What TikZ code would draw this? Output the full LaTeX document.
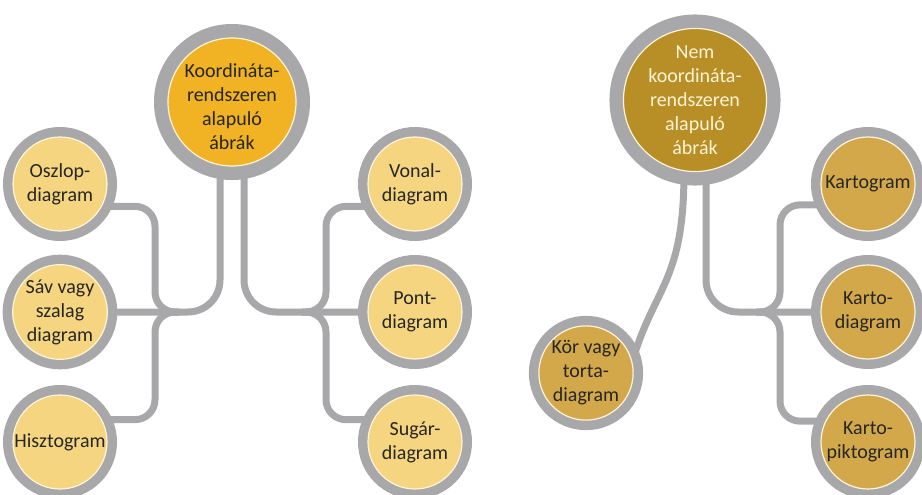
\documentclass[tikz,border=0pt]{standalone}
\usepackage{fontspec}
\setmainfont{Carlito}
\usetikzlibrary{backgrounds,calc}
\definecolor{ringgray}{HTML}{A8A8AA}
\definecolor{cream}{HTML}{FFF4D8}
\definecolor{ink}{HTML}{262626}
\definecolor{paleyellow}{HTML}{F5D580}
\definecolor{rootyellow}{HTML}{F1B224}
\definecolor{rootgold}{HTML}{B88E26}
\definecolor{tangold}{HTML}{D2A84B}
\begin{document}
\begin{tikzpicture}[x=1pt,y=-1pt,
  bubble/.style={circle, inner sep=0pt, minimum size=94pt, align=center,
    font=\fontsize{20}{24}\selectfont, text=ink, draw=cream, line width=1.2pt,
    preaction={draw=ringgray, line width=20pt}},
  rootbubble/.style={bubble, minimum size=128pt, preaction={draw=ringgray, line width=28pt}},
  rootlabel/.style={align=center, font=\fontsize{20}{24}\selectfont, inner sep=0pt},
  conn/.style={draw=ringgray, line width=7pt, rounded corners=20pt},
  stem/.style={conn, rounded corners=32pt}]
\useasboundingbox (0,0) rectangle (922,495);

% coordinate-system based charts
\node[rootbubble, fill=rootyellow,
  label={[rootlabel, text=ink, yshift=-5pt]center:Koordináta-\\rendszeren\\alapuló\\ábrák}]
  (kr) at (232,102) {};
\node[bubble, fill=paleyellow] (osz) at (60,184) {Oszlop-\\diagram};
\node[bubble, fill=paleyellow] (sav) at (60,312) {Sáv vagy\\szalag\\diagram};
\node[bubble, fill=paleyellow] (hisz) at (60,442) {Hisztogram};
\node[bubble, fill=paleyellow] (von) at (415,184) {Vonal-\\diagram};
\node[bubble, fill=paleyellow] (pont) at (415,312) {Pont-\\diagram};
\node[bubble, fill=paleyellow] (sug) at (415,442) {Sugár-\\diagram};

% charts not based on a coordinate system
\node[rootbubble, fill=rootgold, text=cream] (nr) at (695,100) {Nem\\koordináta-\\rendszeren\\alapuló\\ábrák};
\node[bubble, fill=tangold] (kor) at (586,373) {Kör vagy\\torta-\\diagram};
\node[bubble, fill=tangold] (kg) at (868,184) {Kartogram};
\node[bubble, fill=tangold] (kd) at (868,312) {Karto-\\diagram};
\node[bubble, fill=tangold] (kp) at (868,442) {Karto-\\piktogram};

\coordinate (jl) at (155,312);
\coordinate (jr) at (326,312);
\coordinate (jn) at (780,312);

\begin{scope}[on background layer]
  % left tree
  \draw[stem] ([xshift=-12pt]kr.south) |- (sav.east);
  \draw[conn] ([xshift=24pt]jl) -| (jl |- osz.-28) -- (osz.-28);
  \draw[conn] ([xshift=24pt]jl) -| (jl |- hisz.28) -- (hisz.28);
  \draw[stem] ([xshift=12pt]kr.south) |- (pont.west);
  \draw[conn] ([xshift=-24pt]jr) -| (jr |- von.208) -- (von.208);
  \draw[conn] ([xshift=-24pt]jr) -| (jr |- sug.152) -- (sug.152);
  % right tree
  \draw[conn] ([xshift=-11pt]nr.south) .. controls +(0,110) and +(22,-75) .. (kor.14);
  \draw[stem] ([xshift=11pt]nr.south) |- (kd.west);
  \draw[conn] ([xshift=-24pt]jn) -| (jn |- kg.206) -- (kg.206);
  \draw[conn] ([xshift=-24pt]jn) -| (jn |- kp.154) -- (kp.154);
\end{scope}
\end{tikzpicture}
\end{document}
